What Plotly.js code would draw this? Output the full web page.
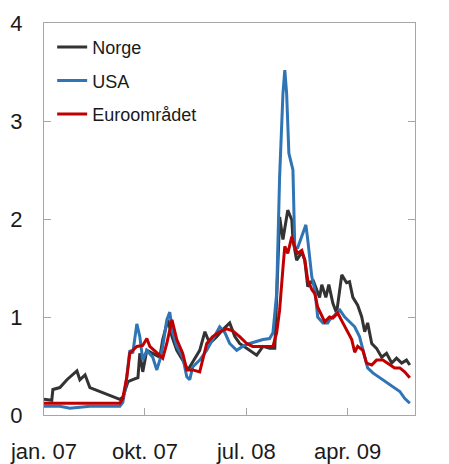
<!DOCTYPE html>
<html>
<head>
<meta charset="utf-8">
<script src="https://cdn.plot.ly/plotly-3.0.1.min.js"></script>
<style>
  html, body { margin: 0; padding: 0; background: #fff; }
  #chart { width: 449px; height: 464px; }
</style>
</head>
<body>
<div id="chart"></div>
<script>
// Norge
const norgeDates = ['2007-01-01','2007-01-22','2007-01-25','2007-02-13','2007-03-04','2007-03-31','2007-04-08','2007-04-22','2007-05-05','2007-06-01','2007-06-28','2007-07-25','2007-08-02','2007-08-16','2007-08-29','2007-09-12','2007-09-17','2007-09-25','2007-10-06','2007-10-22','2007-11-10','2007-11-18','2007-12-02','2007-12-13','2007-12-26','2008-01-11','2008-01-25','2008-02-07','2008-02-26','2008-03-11','2008-03-24','2008-04-12','2008-04-28','2008-05-17','2008-05-31','2008-06-13','2008-07-10','2008-07-29','2008-08-15','2008-09-02','2008-09-16','2008-09-29','2008-10-08','2008-10-21','2008-11-01','2008-11-04','2008-11-14','2008-11-28','2008-12-06','2008-12-14','2008-12-28','2009-01-15','2009-01-21','2009-02-01','2009-02-09','2009-02-20','2009-03-02','2009-03-16','2009-03-29','2009-04-06','2009-04-15','2009-04-28','2009-05-09','2009-05-17','2009-05-25','2009-06-05','2009-06-18','2009-07-02','2009-07-15','2009-07-29','2009-08-11','2009-08-25','2009-09-07','2009-09-16'];
const norgeValues = [0.16,0.15,0.26,0.28,0.36,0.45,0.36,0.41,0.28,0.24,0.20,0.16,0.18,0.34,0.36,0.38,0.63,0.44,0.66,0.63,0.59,0.77,0.97,0.80,0.66,0.56,0.46,0.54,0.66,0.85,0.73,0.80,0.87,0.94,0.80,0.73,0.66,0.61,0.70,0.68,0.68,2.02,1.79,2.09,1.99,1.79,1.58,1.66,1.58,1.31,1.38,1.20,1.33,1.20,1.33,1.14,1.04,1.43,1.35,1.36,1.20,1.12,1.00,0.85,0.94,0.73,0.68,0.59,0.63,0.53,0.58,0.53,0.56,0.51];

// USA
const usaDates = ['2007-01-01','2007-02-13','2007-03-12','2007-05-05','2007-07-25','2007-08-02','2007-08-10','2007-08-16','2007-08-21','2007-08-29','2007-09-09','2007-09-17','2007-09-25','2007-10-06','2007-10-22','2007-11-02','2007-11-10','2007-11-18','2007-11-29','2007-12-07','2007-12-15','2007-12-26','2008-01-11','2008-01-22','2008-01-30','2008-02-07','2008-02-26','2008-03-16','2008-04-01','2008-04-20','2008-05-04','2008-05-17','2008-06-05','2008-06-21','2008-07-10','2008-07-29','2008-08-15','2008-09-02','2008-09-11','2008-09-21','2008-09-29','2008-10-08','2008-10-13','2008-10-18','2008-10-24','2008-11-04','2008-11-09','2008-11-17','2008-12-01','2008-12-09','2008-12-14','2008-12-25','2009-01-02','2009-01-10','2009-01-24','2009-02-06','2009-02-11','2009-02-25','2009-03-11','2009-03-24','2009-04-06','2009-04-20','2009-05-03','2009-05-17','2009-05-25','2009-06-08','2009-06-27','2009-07-15','2009-08-01','2009-08-20','2009-09-02','2009-09-16'];
const usaValues = [0.09,0.09,0.07,0.09,0.09,0.13,0.30,0.49,0.66,0.63,0.93,0.80,0.56,0.66,0.59,0.46,0.56,0.70,0.97,1.05,0.84,0.70,0.59,0.39,0.36,0.49,0.56,0.66,0.77,0.90,0.84,0.73,0.66,0.70,0.73,0.75,0.77,0.78,0.84,1.24,2.43,3.28,3.52,3.28,2.67,2.50,1.71,1.71,1.86,1.94,1.79,1.41,1.28,1.00,0.94,0.94,0.97,1.02,1.07,1.00,0.95,0.90,0.80,0.59,0.48,0.43,0.38,0.33,0.29,0.24,0.17,0.12];

// Euroområdet
const euroDates = ['2007-01-01','2007-04-08','2007-07-25','2007-08-02','2007-08-13','2007-08-21','2007-09-09','2007-09-25','2007-10-06','2007-10-14','2007-11-02','2007-11-18','2007-11-29','2007-12-13','2007-12-26','2008-01-11','2008-01-22','2008-02-07','2008-02-26','2008-03-16','2008-04-01','2008-04-20','2008-05-09','2008-05-25','2008-06-13','2008-07-02','2008-07-18','2008-08-15','2008-09-11','2008-09-21','2008-09-29','2008-10-08','2008-10-13','2008-10-21','2008-11-01','2008-11-09','2008-11-17','2008-11-28','2008-12-06','2008-12-14','2008-12-25','2009-01-02','2009-01-10','2009-01-29','2009-02-11','2009-02-20','2009-03-05','2009-03-19','2009-04-01','2009-04-12','2009-04-20','2009-04-28','2009-05-12','2009-05-22','2009-06-05','2009-06-18','2009-07-05','2009-07-18','2009-08-06','2009-08-20','2009-09-02','2009-09-16'];
const euroValues = [0.12,0.12,0.12,0.17,0.39,0.63,0.70,0.71,0.78,0.70,0.63,0.58,0.73,0.97,0.77,0.63,0.46,0.46,0.44,0.73,0.80,0.85,0.88,0.86,0.80,0.73,0.70,0.70,0.70,0.84,1.07,1.50,1.72,1.65,1.82,1.71,1.65,1.68,1.58,1.38,1.28,1.24,1.10,0.95,1.00,0.99,1.04,0.94,0.84,0.77,0.64,0.70,0.66,0.53,0.51,0.56,0.56,0.53,0.48,0.48,0.44,0.38];

// Ticks
const xTickVals = ['2007-01-01','2007-10-01','2008-07-01','2009-04-01'];
const xTickText = ['jan. 07','okt. 07','jul. 08','apr. 09'];
const yTickVals = [0,1,2,3,4];

const FONT = 'Liberation Sans, Arial, sans-serif';
const axisColor = '#a6a6a6';
const textColor = '#1a1a1a';

const traces = [
  {x: norgeDates, y: norgeValues, name: 'Norge', type: 'scatter', mode: 'lines',
   line: {color: '#333333', width: 3}, legendgroup: 'a'},
  {x: usaDates, y: usaValues, name: 'USA', type: 'scatter', mode: 'lines',
   line: {color: '#2f75b5', width: 3}, legendgroup: 'b'},
  {x: euroDates, y: euroValues, name: 'Euroområdet', type: 'scatter', mode: 'lines',
   line: {color: '#c00000', width: 3}, legendgroup: 'c'}
];

const layout = {
  width: 449, height: 464,
  margin: {l: 44, r: 34, t: 23, b: 49},
  paper_bgcolor: '#fff', plot_bgcolor: '#fff',
  font: {family: FONT, size: 22, color: textColor},
  showlegend: true,
  legend: {x: 0.022, y: 0.985, xanchor: 'left', yanchor: 'top',
           font: {family: FONT, size: 18, color: textColor},
           bgcolor: 'rgba(0,0,0,0)', tracegroupgap: 7, itemwidth: 30},
  xaxis: {
    type: 'date', range: ['2007-01-01', '2009-09-30'],
    tickmode: 'array', tickvals: xTickVals, ticktext: xTickText,
    ticks: 'inside', ticklen: 7, tickcolor: axisColor, tickwidth: 1,
    showline: true, linecolor: axisColor, linewidth: 1, mirror: true,
    showgrid: false, zeroline: false,
    tickfont: {family: FONT, size: 22, color: textColor},
    ticklabelstandoff: 17
  },
  yaxis: {
    range: [0, 4], tickmode: 'array', tickvals: yTickVals,
    ticks: 'inside', ticklen: 7, tickcolor: axisColor, tickwidth: 1,
    showline: true, linecolor: axisColor, linewidth: 1, mirror: 'ticks',
    showgrid: false, zeroline: false,
    tickfont: {family: FONT, size: 22, color: textColor},
    ticklabelstandoff: 16
  },
  yaxis2: {
    range: [0, 4], tickmode: 'array', tickvals: yTickVals,
    overlaying: 'y', side: 'right', ticks: '', showline: false,
    showgrid: false, zeroline: false,
    tickfont: {family: FONT, size: 22, color: textColor},
    ticklabelstandoff: 18
  }
};

Plotly.newPlot('chart', traces, layout, {staticPlot: true, displayModeBar: false});
</script>
</body>
</html>
